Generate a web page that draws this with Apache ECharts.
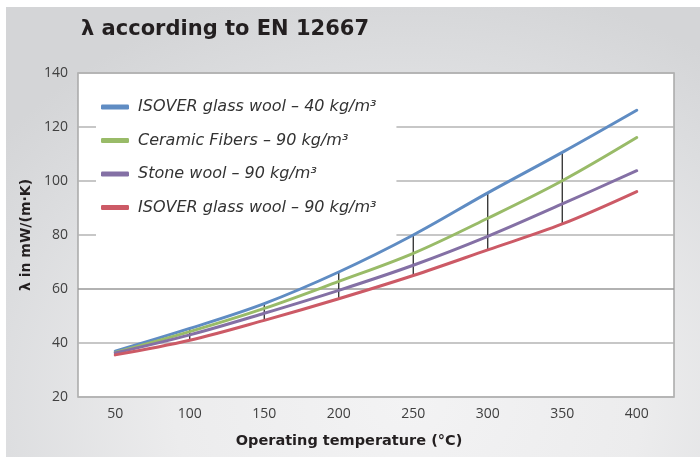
<!DOCTYPE html>
<html>
<head>
<meta charset="utf-8">
<script src="https://cdn.jsdelivr.net/npm/echarts@6/dist/echarts.min.js"></script>
<style>
  html, body { margin: 0; padding: 0; background: #ffffff; }
  #wrap { position: relative; width: 700px; height: 457px; overflow: hidden; background: #ffffff; }
  #bg { position: absolute; left: 6px; top: 7px; right: 0; bottom: 0;
        background: radial-gradient(ellipse 75% 95% at 58% 88%, #f3f3f4 0%, #ececed 45%, #dcdddf 80%, #d4d5d7 100%); }
  #chart { position: absolute; left: 0; top: 0; width: 700px; height: 457px; }
</style>
</head>
<body>
<div id="wrap"><div id="bg"></div><div id="chart"></div></div>
<script>
const temperatures = ['50', '100', '150', '200', '250', '300', '350', '400'];
const seriesNames = [
  'ISOVER glass wool – 40 kg/m³',
  'Ceramic Fibers – 90 kg/m³',
  'Stone wool – 90 kg/m³',
  'ISOVER glass wool – 90 kg/m³'
];
const glassWool40 = [37.0, 45.4, 54.6, 66.3, 80.0, 95.6, 110.6, 126.2];
const ceramic90   = [36.5, 44.2, 52.8, 62.8, 73.2, 86.2, 100.1, 116.1];
const stoneWool90 = [36.3, 43.0, 51.0, 59.5, 68.8, 79.5, 91.5, 103.8];
const glassWool90 = [35.6, 41.0, 48.4, 56.4, 65.0, 74.5, 84.1, 96.1];
const yTicks = [20, 40, 60, 80, 100, 120, 140];
const colors = ['#5f8cc3', '#99bb68', '#8470a5', '#cc5a66'];

const allSeries = [glassWool40, ceramic90, stoneWool90, glassWool90];
const dropIdx = [1, 2, 3, 4, 5, 6];
const dropData = dropIdx.map(i => {
  const vals = allSeries.map(s => s[i]);
  return [i, Math.max.apply(null, vals), Math.min.apply(null, vals)];
});

const chart = echarts.init(document.getElementById('chart'), null, { renderer: 'canvas' });
const lineSeries = allSeries.map((d, k) => ({
  name: seriesNames[k],
  type: 'line',
  data: d,
  smooth: 0.35,
  symbol: 'none',
  lineStyle: { color: colors[k], width: 3, cap: 'round' },
  itemStyle: { color: colors[k] },
  z: 3
}));

chart.setOption({
  animation: false,
  title: {
    text: 'λ according to EN 12667',
    left: 76, top: 14,
    textStyle: { fontFamily: 'DejaVu Sans', fontWeight: 'bold', fontSize: 21, color: '#231f20' }
  },
  grid: {
    left: 78, right: 26, top: 73, bottom: 60,
    show: true, backgroundColor: '#ffffff', borderColor: '#a8a8a8', borderWidth: 1.5
  },
  legend: {
    orient: 'vertical',
    left: 96, top: 87,
    backgroundColor: '#ffffff',
    padding: [11, 20, 25, 5],
    itemWidth: 28, itemHeight: 5, itemGap: 15.5,
    icon: 'roundRect',
    data: seriesNames,
    textStyle: { fontFamily: 'DejaVu Sans', fontStyle: 'italic', fontSize: 16, color: '#333333', lineHeight: 18, padding: [0, 0, 0, 4] }
  },
  xAxis: {
    type: 'category',
    data: temperatures,
    boundaryGap: true,
    name: 'Operating temperature (°C)',
    nameLocation: 'middle',
    nameGap: 37,
    nameTextStyle: { fontFamily: 'DejaVu Sans', fontWeight: 'bold', fontSize: 14.5, color: '#231f20', padding: [0, 54, 0, 0] },
    axisLine: { show: false },
    axisTick: { show: false },
    axisLabel: { margin: 10, fontFamily: 'Open Sans', fontSize: 14, color: '#404040' },
    splitLine: { show: false }
  },
  yAxis: {
    type: 'value',
    min: yTicks[0], max: yTicks[yTicks.length - 1], interval: 20,
    name: 'λ in mW/(m·K)',
    nameLocation: 'middle',
    nameGap: 42,
    nameTextStyle: { fontFamily: 'DejaVu Sans', fontWeight: 'bold', fontSize: 14, color: '#231f20' },
    axisLine: { show: false },
    axisTick: { show: false },
    axisLabel: { margin: 10, fontFamily: 'Open Sans', fontSize: 14, color: '#404040' },
    splitLine: { show: true, lineStyle: { color: ['#b4b4b4', '#b4b4b4', '#999999', '#b4b4b4', '#b4b4b4', '#b4b4b4', '#b4b4b4'], width: 1.5 } }
  },
  series: lineSeries.concat([{
    type: 'custom',
    name: 'drop',
    data: dropData,
    z: 2,
    silent: true,
    renderItem: function (params, api) {
      const p1 = api.coord([api.value(0), api.value(1)]);
      const p2 = api.coord([api.value(0), api.value(2)]);
      return {
        type: 'line',
        shape: { x1: p1[0], y1: p1[1], x2: p2[0], y2: p2[1] },
        style: { stroke: '#1a1a1a', lineWidth: 1.2 }
      };
    }
  }])
});
</script>
</body>
</html>
